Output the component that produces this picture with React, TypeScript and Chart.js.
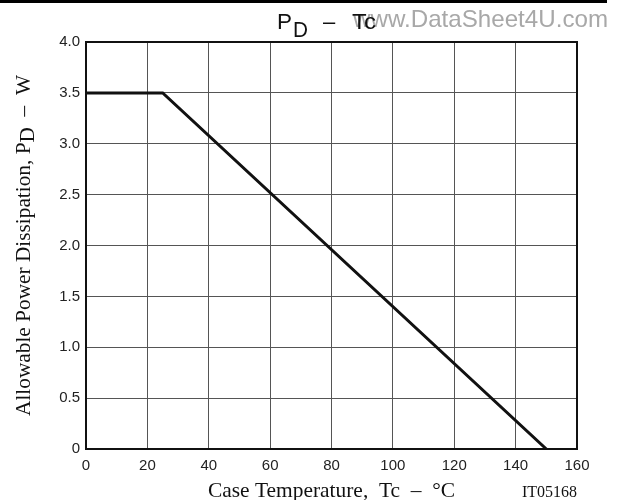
import React, { useEffect, useRef } from "react";
import { Chart, registerables } from "chart.js";

Chart.register(...registerables);

const temperatures = [0, 25, 150];
const powerValues = [3.5, 3.5, 0];
const xTicks = [0, 20, 40, 60, 80, 100, 120, 140, 160];
const yTicks = [0, 0.5, 1.0, 1.5, 2.0, 2.5, 3.0, 3.5, 4.0];

const SANS = "Arial, 'Liberation Sans', Helvetica, sans-serif";
const SERIF = "'Times New Roman', 'Liberation Serif', Times, serif";

function fitText(ctx: CanvasRenderingContext2D, text: string, x: number, y: number, width: number) {
  const w = ctx.measureText(text).width;
  ctx.save();
  ctx.translate(x, y);
  ctx.scale(width / w, 1);
  ctx.fillText(text, 0, 0);
  ctx.restore();
}

const decorPlugin = {
  id: "decor",
  afterDraw(chart: any) {
    const ctx = chart.ctx as CanvasRenderingContext2D;
    const a = chart.chartArea;
    ctx.save();
    // frame
    ctx.strokeStyle = "#111";
    ctx.lineWidth = 2;
    ctx.strokeRect(a.left, a.top, a.right - a.left, a.bottom - a.top);

    // top bar
    ctx.fillStyle = "#000";
    ctx.fillRect(0, 0, 607, 3);

    // watermark
    ctx.textBaseline = "alphabetic";
    ctx.textAlign = "left";
    ctx.font = `24px ${SANS}`;
    ctx.fillStyle = "#a8a8a8";
    fitText(ctx, "www.DataSheet4U.com", 353, 27, 255);

    // title
    ctx.fillStyle = "#111";
    ctx.font = `22px ${SANS}`;
    fitText(ctx, "P", 277, 29, 15);
    fitText(ctx, "D", 293, 37, 15);
    ctx.fillText("–", 323, 29);
    fitText(ctx, "Tc", 352, 29, 24);

    // y axis title
    ctx.save();
    ctx.translate(30, 245.5);
    ctx.rotate(-Math.PI / 2);
    ctx.fillStyle = "#111";
    const part1 = "Allowable Power Dissipation, P";
    const sub = "D";
    const part2 = "  –  W";
    ctx.font = `21px ${SERIF}`;
    const w1 = ctx.measureText(part1).width;
    const w2 = ctx.measureText(sub).width;
    const w3 = ctx.measureText(part2).width;
    const total = w1 + w2 + w3;
    const k = 341 / total;
    ctx.scale(k, 1);
    let sx = -total / 2;
    ctx.fillText(part1, sx, 0);
    sx += w1;
    ctx.fillText(sub, sx, 4);
    sx += w2;
    ctx.fillText(part2, sx, 0);
    ctx.restore();

    // x axis title
    ctx.fillStyle = "#111";
    ctx.font = `22px ${SERIF}`;
    ctx.textAlign = "left";
    fitText(ctx, "Case Temperature,  Tc  –  °C", 208, 497, 247);
    ctx.font = `16px ${SERIF}`;
    fitText(ctx, "IT05168", 522, 497, 55);
    ctx.restore();
  },
};

export default function App() {
  const ref = useRef<HTMLCanvasElement | null>(null);
  useEffect(() => {
    document.body.style.margin = "0";
    if (!ref.current) return;
    const chart = new Chart(ref.current, {
      type: "line",
      data: {
        datasets: [
          {
            data: temperatures.map((t, i) => ({ x: t, y: powerValues[i] })),
            borderColor: "#111",
            borderWidth: 3,
            pointRadius: 0,
            tension: 0,
          },
        ],
      },
      options: {
        animation: false,
        responsive: false,
        devicePixelRatio: 1,
        layout: { padding: { top: 42, right: 41, left: 0, bottom: 0 } },
        plugins: { legend: { display: false }, tooltip: { enabled: false } },
        scales: {
          x: {
            type: "linear",
            min: 0,
            max: 160,
            afterBuildTicks: (s: any) => {
              s.ticks = xTicks.map((v) => ({ value: v }));
            },
            afterFit: (s: any) => {
              s.height = 51;
            },
            grid: { color: "#555", lineWidth: 1, drawTicks: false },
            border: { color: "#111", width: 2 },
            ticks: {
              padding: 8,
              color: "#222",
              font: { family: SANS, size: 15 },
              maxRotation: 0,
              callback: (v: any) => String(v),
            },
          },
          y: {
            type: "linear",
            min: 0,
            max: 4,
            afterBuildTicks: (s: any) => {
              s.ticks = yTicks.map((v) => ({ value: v }));
            },
            afterFit: (s: any) => {
              s.width = 86;
            },
            grid: { color: "#555", lineWidth: 1, drawTicks: false },
            border: { color: "#111", width: 2 },
            ticks: {
              padding: 6,
              color: "#222",
              font: { family: SANS, size: 15 },
              callback: (v: any) => (v === 0 ? "0" : Number(v).toFixed(1)),
            },
          },
        },
      },
      plugins: [decorPlugin],
    });
    return () => chart.destroy();
  }, []);
  return <canvas ref={ref} width={618} height={500} style={{ display: "block" }} />;
}
